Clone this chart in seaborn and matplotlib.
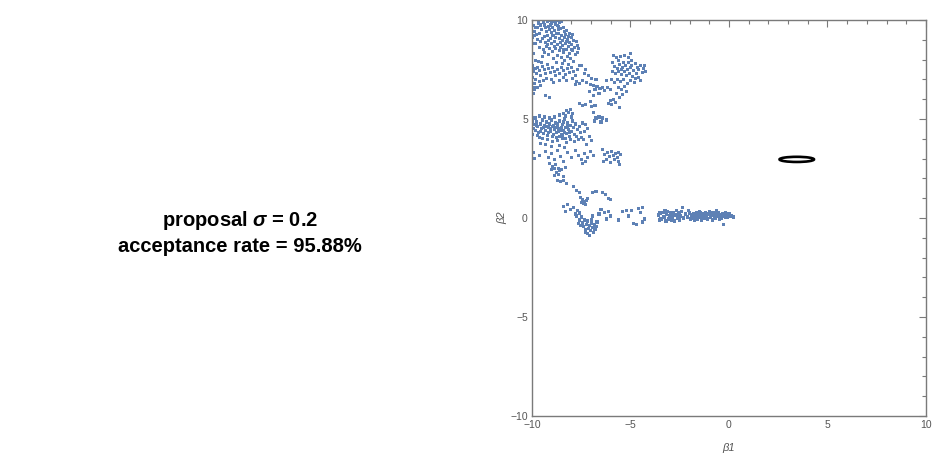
import numpy as np
import pandas as pd
import matplotlib
matplotlib.use("Agg")
import matplotlib.pyplot as plt
from matplotlib.patches import Ellipse
from matplotlib.ticker import MultipleLocator
import seaborn as sns

# ---- data ----
cluster_top = [(-9.95,9.7),(-9.9,9.4),(-9.97,9.1),(-9.85,8.8),(-9.92,8.3),(-9.7,9.6),(-9.6,9.3),(-9.55,9.75),(-9.4,9.9),(-9.3,9.6),(-9.2,9.95),(-9.1,10.0),(-9.0,9.85),(-8.9,9.95),(-8.75,10.0),(-8.6,9.9),(-8.5,9.95),(-9.25,9.4),(-9.1,9.5),(-8.95,9.6),(-8.85,9.45),(-8.7,9.7),(-8.55,9.55),(-8.4,9.6),(-8.25,9.45),(-8.1,9.3),(-9.35,9.15),(-9.2,9.2),(-9.05,9.05),(-8.9,9.2),(-8.8,9.1),(-8.65,9.3),(-8.5,9.2),(-8.35,9.1),(-8.2,9.0),(-8.0,9.1),(-7.9,8.95),(-9.7,9.0),(-9.55,8.9),(-9.45,9.05),(-9.3,8.85),(-9.15,8.95),(-9.0,8.8),(-8.85,8.9),(-8.7,8.75),(-8.55,8.85),(-8.45,8.7),(-8.3,8.8),(-8.15,8.65),(-8.0,8.75),(-7.85,8.6),(-7.7,8.7),(-9.6,8.6),(-9.4,8.5),(-9.25,8.65),(-9.1,8.55),(-8.95,8.4),(-8.8,8.55),(-8.6,8.45),(-8.4,8.35),(-8.25,8.5),(-8.1,8.3),(-7.95,8.45),(-7.8,8.25),(-8.7,8.2),(-8.5,8.1),(-8.35,7.95),(-8.2,8.15),(-8.05,8.05),(-7.9,7.9),(-8.9,8.05),(-9.15,8.25),(-9.45,8.15),(-9.8,7.95),(-9.0,9.35),(-8.75,9.3),(-8.6,9.05),(-8.45,8.95),(-8.3,9.25),(-9.5,9.5),(-9.8,9.6),(-9.65,9.85),(-9.35,9.75),(-9.05,9.75),(-8.8,9.8),(-8.65,9.65),(-8.95,9.2),(-8.25,8.9),(-8.1,8.85),(-7.75,8.9),(-7.65,8.55),(-9.2,8.75),(-8.55,8.6),(-8.4,8.5),(-8.0,8.5),(-7.7,8.35),(-9.9,9.2),(-9.75,9.25),(-8.85,8.65),(-9.35,8.35),(-8.65,9.5),(-9.15,9.65),(-8.35,9.4),(-8.15,9.15),(-7.95,9.25)]
cluster_upper = [(-9.98,7.7),(-9.95,7.4),(-9.97,7.1),(-9.9,6.8),(-9.85,7.55),(-9.75,7.3),(-9.7,7.6),(-9.6,7.45),(-9.55,7.2),(-9.45,7.65),(-9.35,7.5),(-9.3,7.3),(-9.25,7.05),(-9.15,7.55),(-9.05,7.35),(-8.95,7.6),(-8.85,7.4),(-8.8,7.2),(-8.7,7.5),(-8.6,7.3),(-8.5,7.6),(-8.4,7.45),(-8.3,7.25),(-8.2,7.55),(-8.1,7.35),(-8.0,7.6),(-7.9,7.4),(-7.8,7.2),(-7.7,7.5),(-7.6,7.7),(-9.8,7.0),(-9.6,6.9),(-9.4,6.95),(-9.7,6.6),(-9.55,6.7),(-9.9,6.5),(-9.3,6.2),(-9.0,7.0),(-8.9,6.85),(-8.4,7.1),(-8.25,6.95),(-7.95,7.05),(-9.5,7.85),(-9.2,7.75),(-8.75,7.85),(-8.45,7.8),(-8.15,7.75),(-9.65,7.9),(-9.95,6.3),(-9.85,6.6),(-9.1,6.1),(-8.6,6.95),(-7.75,6.9)]
cluster_spread = [(-7.5,7.7),(-7.3,7.5),(-7.15,7.2),(-7.0,7.05),(-7.25,6.85),(-7.45,6.95),(-6.9,6.7),(-6.7,6.65),(-6.8,6.5),(-6.55,6.55),(-6.4,6.6),(-6.6,6.3),(-6.3,6.45),(-6.15,6.6),(-6.0,6.5),(-6.9,6.2),(-7.1,6.4),(-7.6,6.8),(-7.8,6.75),(-7.35,7.3),(-6.75,7.0),(-6.2,6.95),(-7.05,6.75)]
cluster_right = [(-5.85,8.2),(-5.7,8.1),(-5.5,8.15),(-5.3,8.2),(-5.1,8.1),(-4.95,7.95),(-4.75,7.8),(-4.5,7.7),(-4.35,7.55),(-4.25,7.4),(-4.4,7.35),(-4.6,7.5),(-4.7,7.3),(-4.85,7.45),(-5.0,7.6),(-5.15,7.5),(-5.25,7.7),(-5.4,7.6),(-5.55,7.75),(-5.65,7.55),(-5.8,7.65),(-5.9,7.4),(-5.75,7.3),(-5.6,7.4),(-5.45,7.25),(-5.3,7.4),(-5.2,7.2),(-5.05,7.3),(-4.9,7.15),(-4.75,7.05),(-4.6,7.1),(-4.5,6.95),(-4.8,6.85),(-5.0,6.95),(-5.15,6.8),(-5.35,7.0),(-5.5,6.9),(-5.65,7.0),(-5.8,6.85),(-5.95,7.0),(-5.6,6.6),(-5.45,6.5),(-5.3,6.65),(-5.2,6.4),(-5.4,6.25),(-5.55,6.1),(-5.7,6.3),(-5.85,6.0),(-5.75,5.85),(-5.95,5.75),(-6.1,5.8),(-6.0,5.95),(-5.6,7.95),(-5.35,7.85),(-5.1,7.85),(-4.95,7.7),(-4.65,7.6),(-5.45,7.5),(-5.9,7.85),(-4.3,7.7),(-5.0,8.3),(-5.55,5.6)]
cluster_middle = [(-9.98,4.9),(-9.95,4.5),(-9.97,4.2),(-9.9,4.7),(-9.8,4.4),(-9.75,4.85),(-9.7,4.6),(-9.65,4.3),(-9.6,4.05),(-9.55,4.75),(-9.5,4.5),(-9.45,4.95),(-9.4,4.25),(-9.35,4.65),(-9.3,4.4),(-9.25,4.85),(-9.2,4.15),(-9.15,4.55),(-9.1,4.75),(-9.05,4.35),(-9.0,4.95),(-8.95,4.6),(-8.9,4.2),(-8.85,4.45),(-8.8,4.8),(-8.75,4.05),(-8.7,4.6),(-8.65,4.35),(-8.6,4.9),(-8.55,4.5),(-8.5,4.2),(-8.45,4.7),(-8.4,4.4),(-8.35,5.0),(-8.3,4.55),(-8.25,4.25),(-8.2,4.8),(-8.15,4.45),(-8.1,4.1),(-8.05,4.65),(-8.0,4.35),(-7.95,4.9),(-7.9,4.55),(-7.85,4.2),(-7.8,4.75),(-7.7,4.45),(-7.6,4.6),(-7.55,4.3),(-7.45,4.8),(-9.85,5.05),(-9.6,5.15),(-9.35,5.1),(-9.1,5.05),(-8.85,5.1),(-8.6,5.2),(-8.4,5.3),(-8.25,5.45),(-8.15,5.35),(-8.05,5.5),(-7.95,5.3),(-8.3,5.15),(-8.0,5.1),(-9.7,4.15),(-9.45,4.0),(-9.2,3.95),(-8.95,3.85),(-8.7,3.9),(-8.45,4.0),(-8.25,3.8),(-8.05,3.95),(-7.85,3.85),(-9.55,3.75),(-9.3,3.7),(-9.0,3.6),(-8.6,3.65),(-8.35,3.55),(-9.05,4.5),(-8.9,4.65),(-8.65,4.5),(-8.75,4.3),(-8.5,4.55),(-8.35,4.3),(-8.45,4.15),(-8.8,4.55),(-9.15,4.3),(-9.25,4.6),(-8.55,4.4),(-8.7,4.75),(-8.2,4.6),(-8.4,4.85),(-8.6,4.1),(-8.1,4.3),(-9.4,4.55),(-9.55,4.35),(-9.75,4.65),(-8.95,4.1),(-8.3,4.0),(-7.75,4.1),(-7.65,3.95),(-7.5,4.05),(-7.35,4.35),(-7.2,4.5),(-7.3,4.7),(-7.1,4.1),(-7.0,3.9),(-7.25,3.7),(-7.4,3.95)]
cluster_scatter = [(-7.6,5.8),(-7.3,5.75),(-7.0,5.65),(-6.8,5.7),(-6.9,5.35),(-6.75,5.05),(-6.85,4.9),(-6.4,5.05),(-6.2,4.95),(-6.5,4.85),(-7.05,5.9),(-6.6,5.1),(-7.45,5.7)]
cluster_lower = [(-9.95,3.3),(-9.9,3.0),(-9.6,3.15),(-9.3,3.35),(-9.15,3.05),(-9.0,3.25),(-8.85,2.95),(-8.7,3.4),(-8.55,3.1),(-8.4,2.85),(-8.2,3.3),(-8.0,3.05),(-7.8,3.4),(-7.65,3.15),(-7.5,2.95),(-7.35,3.25),(-7.2,3.05),(-7.05,3.35),(-6.9,3.15),(-7.45,2.75),(-7.3,2.85),(-9.1,2.75),(-8.95,2.6),(-8.8,2.7),(-8.65,2.5),(-9.0,2.45),(-8.75,2.3),(-8.6,2.4),(-8.85,2.15),(-8.7,1.9),(-8.4,2.1),(-8.55,1.85)]
cluster_mid_right = [(-6.4,3.45),(-6.3,3.2),(-6.15,3.3),(-6.05,3.1),(-5.95,3.35),(-5.85,3.15),(-5.75,3.25),(-5.65,3.05),(-5.6,2.85),(-5.8,2.95),(-6.2,2.95),(-6.35,2.85),(-5.5,3.2),(-5.6,3.3),(-6.0,2.8),(-5.55,2.7)]
cluster_descent = [(-8.85,2.5),(-8.5,2.45),(-8.3,2.55),(-8.65,2.2),(-8.4,1.9),(-8.25,1.75),(-7.9,1.6),(-7.75,1.4),(-7.6,1.3),(-6.95,1.3),(-6.75,1.35),(-6.4,1.3),(-6.25,1.2),(-6.1,0.97),(-6.0,0.95),(-7.55,1.05),(-7.45,0.95),(-7.35,0.85),(-7.4,0.75),(-7.25,0.9),(-7.5,0.8),(-7.3,0.7),(-7.2,1.0),(-8.4,0.6),(-8.2,0.7),(-8.05,0.45),(-7.9,0.55),(-8.3,0.35),(-7.7,0.4),(-7.6,0.25),(-7.8,0.2)]
cluster_bottom = [(-7.75,0.1),(-7.6,-0.1),(-7.5,0.05),(-7.45,-0.25),(-7.35,-0.1),(-7.25,-0.35),(-7.2,-0.15),(-7.1,-0.4),(-7.0,-0.25),(-6.95,-0.5),(-6.85,-0.35),(-6.8,-0.6),(-6.9,-0.75),(-7.05,-0.65),(-7.15,-0.55),(-7.3,-0.6),(-7.4,-0.45),(-7.55,-0.4),(-7.65,-0.3),(-7.2,-0.8),(-7.1,-0.9),(-7.3,-0.75),(-6.75,-0.45),(-6.7,-0.2),(-7.0,-0.1),(-6.95,0.1),(-6.6,0.2),(-6.5,0.45),(-6.3,0.3),(-6.2,-0.05),(-6.1,0.35),(-6.0,0.1),(-5.4,0.35),(-5.2,0.4),(-4.95,0.4),(-4.6,0.5),(-4.5,0.3),(-4.4,0.55),(-4.85,-0.3),(-4.7,-0.35),(-4.4,-0.2),(-4.3,-0.05),(-5.6,-0.1),(-5.1,0.1)]
cluster_strip = [(-3.6,0.15),(-3.5,0.25),(-3.45,-0.05),(-3.35,0.3),(-3.3,0.05),(-3.2,-0.15),(-3.15,0.2),(-3.1,0.35),(-3.05,-0.05),(-3.0,0.1),(-2.95,0.25),(-2.9,-0.1),(-2.85,0.05),(-2.8,0.3),(-2.75,-0.15),(-2.7,0.15),(-2.65,0.4),(-2.6,0.0),(-2.55,0.2),(-2.5,-0.1),(-2.45,0.1),(-2.4,0.35),(-2.35,0.55),(-2.2,0.2),(-2.1,0.05),(-2.0,0.25),(-1.95,-0.05),(-1.9,0.15),(-1.85,0.0),(-1.8,0.2),(-1.75,-0.1),(-1.7,0.1),(-1.65,0.3),(-1.6,-0.05),(-1.55,0.15),(-1.5,0.05),(-1.45,0.25),(-1.4,-0.1),(-1.35,0.1),(-1.3,0.2),(-1.25,0.0),(-1.2,0.3),(-1.15,0.1),(-1.1,-0.05),(-1.05,0.2),(-1.0,0.35),(-0.95,0.05),(-0.9,0.25),(-0.85,-0.1),(-0.8,0.15),(-0.75,0.3),(-0.7,0.0),(-0.65,0.2),(-0.6,0.1),(-0.55,0.25),(-0.5,-0.05),(-0.45,0.15),(-0.4,0.0),(-0.35,0.2),(-0.3,-0.35),(-0.25,0.1),(-0.2,0.25),(-0.1,0.05),(0.0,0.2),(0.1,0.1),(0.25,0.05),(-2.05,0.4),(-1.5,0.35),(-0.65,0.4),(-3.25,0.4),(-2.85,0.2),(-2.3,0.0),(-1.6,0.2),(-1.2,0.05),(-0.75,0.1),(-0.2,0.05),(-3.55,-0.1),(-2.5,0.3)]

posterior_center = (3.44, 2.96)
posterior_width = 1.75
posterior_height = 0.26

proposal_sigma = 0.2
acceptance_rate = 95.88

axis_min, axis_max = -10, 10

samples = (cluster_top + cluster_upper + cluster_spread + cluster_right + cluster_middle +
           cluster_scatter + cluster_lower + cluster_mid_right + cluster_descent +
           cluster_bottom + cluster_strip)
df = pd.DataFrame(samples, columns=["beta1", "beta2"])

# ---- style ----
sns.set_style("white")
plt.rcParams["font.family"] = ["Liberation Sans", "DejaVu Sans"]
plt.rcParams["mathtext.fontset"] = "custom"
plt.rcParams["mathtext.it"] = "Liberation Sans:italic:bold"
plt.rcParams["mathtext.rm"] = "Liberation Sans:bold"

frame_color = "#7a7a7a"
label_color = "#555555"

fig = plt.figure(figsize=(9.53, 4.71), dpi=100)
ax = fig.add_axes([532 / 953, 55 / 471, 394 / 953, 396 / 471])

sns.scatterplot(data=df, x="beta1", y="beta2", ax=ax, marker="s", s=5,
                color="#5E81B5", linewidth=0, edgecolor="none", legend=False)

ax.add_patch(Ellipse(posterior_center, posterior_width, posterior_height,
                     facecolor="none", edgecolor="black", linewidth=1.9))

ax.set_xlim(axis_min, axis_max)
ax.set_ylim(axis_min, axis_max)
ax.xaxis.set_major_locator(MultipleLocator(5))
ax.yaxis.set_major_locator(MultipleLocator(5))
ax.xaxis.set_minor_locator(MultipleLocator(1))
ax.yaxis.set_minor_locator(MultipleLocator(1))
ax.tick_params(which="both", direction="in", top=True, right=True,
               color=frame_color, labelcolor=label_color, labelsize=7.5, width=0.8)
ax.tick_params(which="major", length=5, pad=3)
ax.tick_params(which="minor", length=3)
for sp in ax.spines.values():
    sp.set_color(frame_color)
    sp.set_linewidth(1.0)

ax.set_xlabel("β1", style="italic", color=label_color, fontsize=8, labelpad=9)
ax.set_ylabel("β2", style="italic", color=label_color, fontsize=8, labelpad=2)

fig.text(240 / 953, 1 - 220 / 471, r"proposal $\sigma$ = " + f"{proposal_sigma}",
         ha="center", va="center", fontsize=14.5, fontweight="bold", color="black")
fig.text(240 / 953, 1 - 246 / 471, f"acceptance rate = {acceptance_rate:.2f}%",
         ha="center", va="center", fontsize=14.5, fontweight="bold", color="black")

fig.savefig("out.png", dpi=100, facecolor="white")
